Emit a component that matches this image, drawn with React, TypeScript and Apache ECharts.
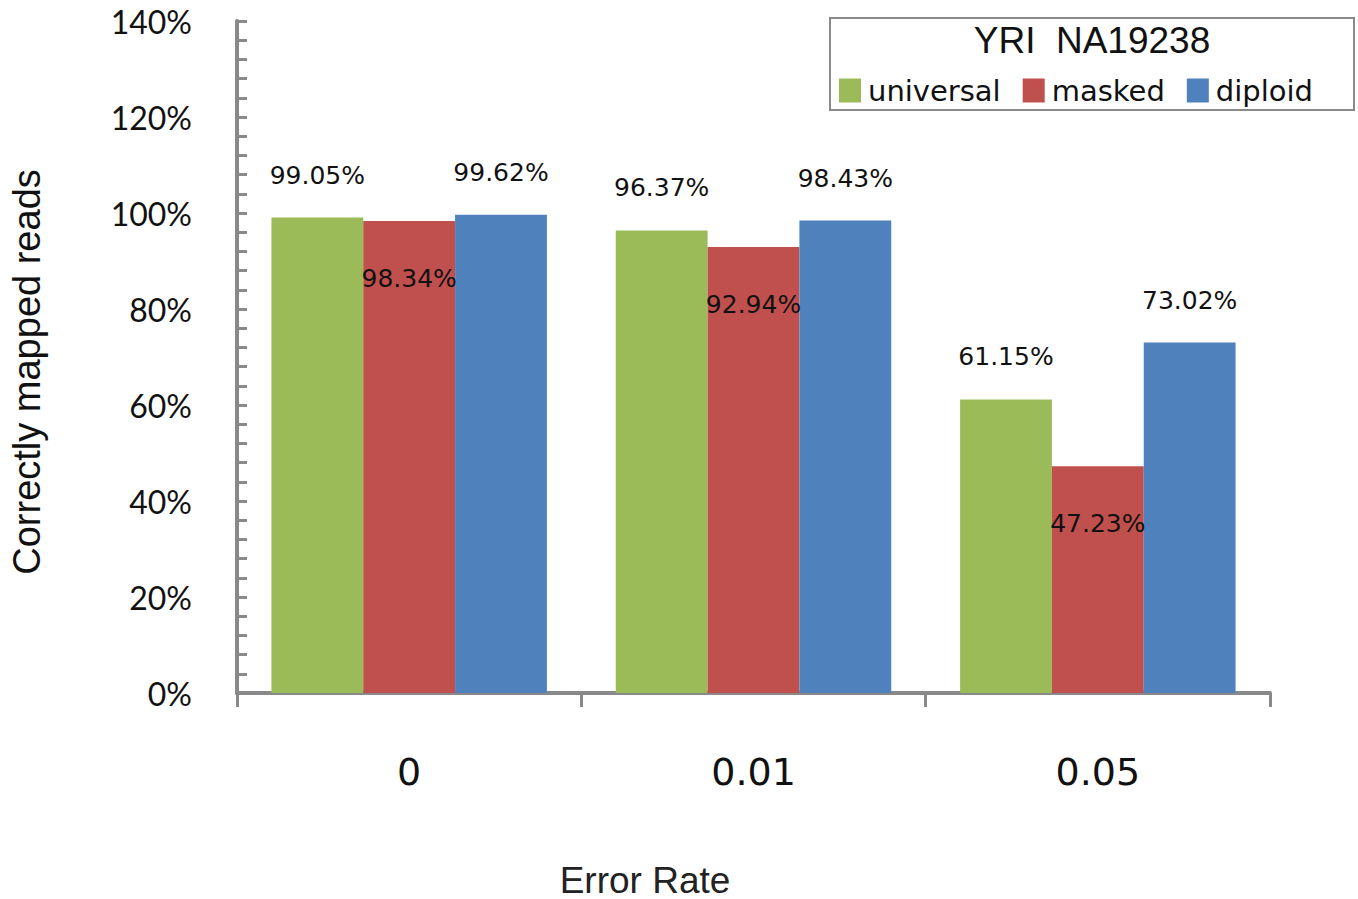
import React, { useEffect, useRef } from "react";
import * as echarts from "echarts";

const categories = ["0", "0.01", "0.05"];
const universal = [99.05, 96.37, 61.15];
const masked = [98.34, 92.94, 47.23];
const diploid = [99.62, 98.43, 73.02];
const seriesNames = ["universal", "masked", "diploid"];
const colors = ["#9BBB59", "#C0504D", "#4F81BD"];
const legendTitle = "YRI  NA19238";
const yAxisTitle = "Correctly mapped reads";
const xAxisTitle = "Error Rate";

export default function App() {
  const ref = useRef<HTMLDivElement>(null);
  useEffect(() => {
    if (!ref.current) return;
    const chart = echarts.init(ref.current, null, { renderer: "svg" });
    const labelFont = { fontFamily: "DejaVu Sans", fontSize: 25, color: "#111" };
    const axisGray = "#898989";
    const mk = (name: string, data: number[], color: string, inside: boolean) => ({
      name,
      type: "bar",
      data,
      barGap: "0%",
      barCategoryGap: "20%",
      itemStyle: { color },
      label: {
        show: true,
        position: inside ? "insideTop" : "top",
        distance: inside ? 45 : 30,
        formatter: (p: any) => p.value.toFixed(2) + "%",
        ...labelFont,
      },
    });
    chart.setOption({
      animation: false,
      backgroundColor: "#ffffff",
      grid: { left: 237, right: 88, top: 21, bottom: 206, containLabel: false },
      legend: {
        data: seriesNames,
        left: 834,
        top: 71,
        itemWidth: 22,
        itemHeight: 24,
        itemGap: 22,
        icon: "rect",
        textStyle: { fontFamily: "DejaVu Sans", fontSize: 29, color: "#111", padding: [0, 0, 0, 2] },
      },
      xAxis: {
        type: "category",
        data: categories,
        axisLine: { lineStyle: { color: axisGray, width: 4 } },
        axisTick: { show: true, alignWithLabel: false, length: 14, lineStyle: { color: axisGray, width: 3 } },
        axisLabel: { fontFamily: "DejaVu Sans", fontSize: 38, color: "#111", margin: 60 },
      },
      yAxis: {
        type: "value",
        min: 0,
        max: 140,
        interval: 20,
        axisLine: { show: true, lineStyle: { color: axisGray, width: 4 } },
        axisTick: { show: true, inside: true, length: 10, lineStyle: { color: axisGray, width: 3 } },
        minorTick: { show: true, splitNumber: 5, length: 10, lineStyle: { color: axisGray, width: 3 } },
        splitLine: { show: false },
        axisLabel: {
          formatter: (v: number) => v + "%",
          fontFamily: "Lato",
          fontSize: 32,
          color: "#111",
          margin: 45,
        },
      },
      graphic: [
        {
          type: "rect",
          shape: { x: 830, y: 18, width: 524, height: 92 },
          style: { fill: "none", stroke: "#8a8a8a", lineWidth: 2 },
          z: 10,
        },
        {
          type: "text",
          x: 1092,
          y: 40,
          style: {
            text: legendTitle,
            fontFamily: "Liberation Sans",
            fontSize: 37,
            fill: "#111",
            align: "center",
            verticalAlign: "middle",
          },
          z: 10,
        },
        {
          type: "text",
          x: 27,
          y: 372,
          rotation: Math.PI / 2,
          style: {
            text: yAxisTitle,
            fontFamily: "Liberation Sans",
            fontSize: 38,
            fill: "#111",
            align: "center",
            verticalAlign: "middle",
          },
        },
        {
          type: "text",
          x: 645,
          y: 880,
          style: {
            text: xAxisTitle,
            fontFamily: "Liberation Sans",
            fontSize: 37,
            fill: "#222",
            align: "center",
            verticalAlign: "middle",
          },
        },
      ],
      series: [
        mk(seriesNames[0], universal, colors[0], false),
        mk(seriesNames[1], masked, colors[1], true),
        mk(seriesNames[2], diploid, colors[2], false),
      ],
    });
    return () => chart.dispose();
  }, []);
  return (
    <div
      ref={ref}
      style={{ position: "absolute", left: 0, top: 0, width: 1358, height: 899 }}
    />
  );
}
